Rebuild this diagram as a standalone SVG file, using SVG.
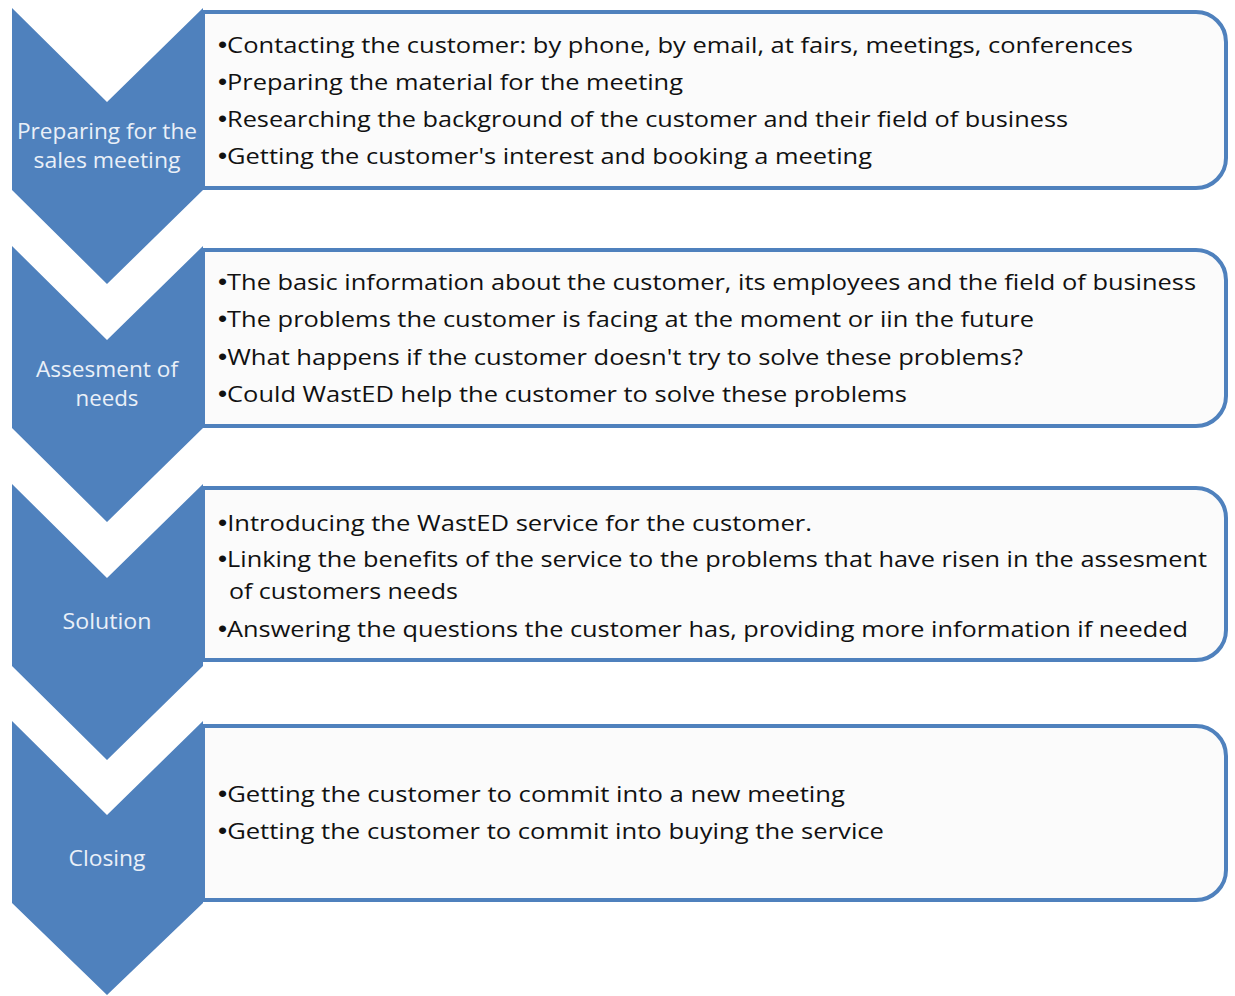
<svg xmlns="http://www.w3.org/2000/svg" width="1235" height="996" viewBox="0 0 1235 996">
  <style>
    .chev { fill: #4f81bd; }
    .box { fill: #fbfbfb; stroke: #4f81bd; stroke-width: 4; }
    .lbl { font-family: "Open Sans", "Liberation Sans", sans-serif; font-size: 22px; fill: #eaf0f8; text-anchor: middle; }
    .item { font-family: "Open Sans", "Liberation Sans", sans-serif; font-size: 22.5px; fill: #111111; }
    .b { font-family: "Liberation Sans", "Arial", sans-serif; font-size: 23px; }
  </style>
  <rect width="1235" height="996" fill="#ffffff"/>

  <!-- Step 1 -->
  <g id="step1">
    <path class="box" d="M203,12 H1196 A30,30 0 0 1 1226,42 V158 A30,30 0 0 1 1196,188 H203 Z"/>
    <path class="chev" d="M12,8 L107,102 L203,8 V190 L107,284 L12,190 Z"/>
    <text class="lbl" x="107" y="139" textLength="180" lengthAdjust="spacingAndGlyphs">Preparing for the</text>
    <text class="lbl" x="107" y="168" textLength="147" lengthAdjust="spacingAndGlyphs">sales meeting</text>
    <text class="item" x="218" y="53" textLength="915" lengthAdjust="spacingAndGlyphs"><tspan class="b">•</tspan>Contacting the customer: by phone, by email, at fairs, meetings, conferences</text>
    <text class="item" x="218" y="90" textLength="465" lengthAdjust="spacingAndGlyphs"><tspan class="b">•</tspan>Preparing the material for the meeting</text>
    <text class="item" x="218" y="127" textLength="850" lengthAdjust="spacingAndGlyphs"><tspan class="b">•</tspan>Researching the background of the customer and their field of business</text>
    <text class="item" x="218" y="164" textLength="654" lengthAdjust="spacingAndGlyphs"><tspan class="b">•</tspan>Getting the customer's interest and booking a meeting</text>
  </g>

  <!-- Step 2 -->
  <g id="step2">
    <path class="box" d="M203,250 H1196 A30,30 0 0 1 1226,280 V396 A30,30 0 0 1 1196,426 H203 Z"/>
    <path class="chev" d="M12,246 L107,340 L203,246 V428 L107,522 L12,428 Z"/>
    <text class="lbl" x="107" y="377" textLength="142" lengthAdjust="spacingAndGlyphs">Assesment of</text>
    <text class="lbl" x="107" y="406" textLength="63" lengthAdjust="spacingAndGlyphs">needs</text>
    <text class="item" x="218" y="290" textLength="978" lengthAdjust="spacingAndGlyphs"><tspan class="b">•</tspan>The basic information about the customer, its employees  and the field of business</text>
    <text class="item" x="218" y="327" textLength="816" lengthAdjust="spacingAndGlyphs"><tspan class="b">•</tspan>The problems the customer is facing at the moment or iin the future</text>
    <text class="item" x="218" y="365" textLength="805" lengthAdjust="spacingAndGlyphs"><tspan class="b">•</tspan>What happens if the customer doesn't try to solve these problems?</text>
    <text class="item" x="218" y="402" textLength="689" lengthAdjust="spacingAndGlyphs"><tspan class="b">•</tspan>Could WastED help the customer to solve these problems</text>
  </g>

  <!-- Step 3 -->
  <g id="step3">
    <path class="box" d="M203,488 H1196 A30,30 0 0 1 1226,518 V630 A30,30 0 0 1 1196,660 H203 Z"/>
    <path class="chev" d="M12,484 L107,578 L203,484 V666 L107,760 L12,666 Z"/>
    <text class="lbl" x="107" y="629" textLength="89" lengthAdjust="spacingAndGlyphs">Solution</text>
    <text class="item" x="218" y="531" textLength="594" lengthAdjust="spacingAndGlyphs"><tspan class="b">•</tspan>Introducing the WastED service for the customer.</text>
    <text class="item" x="218" y="567" textLength="989" lengthAdjust="spacingAndGlyphs"><tspan class="b">•</tspan>Linking the benefits of the service to the problems that have risen in the assesment</text>
    <text class="item" x="229" y="599" textLength="229" lengthAdjust="spacingAndGlyphs">of customers needs</text>
    <text class="item" x="218" y="637" textLength="970" lengthAdjust="spacingAndGlyphs"><tspan class="b">•</tspan>Answering the questions the customer has, providing more information if needed</text>
  </g>

  <!-- Step 4 -->
  <g id="step4">
    <path class="box" d="M203,726 H1196 A30,30 0 0 1 1226,756 V870 A30,30 0 0 1 1196,900 H203 Z"/>
    <path class="chev" d="M12,721 L107,815 L203,721 V903 L107,995 L12,903 Z"/>
    <text class="lbl" x="107" y="866" textLength="77" lengthAdjust="spacingAndGlyphs">Closing</text>
    <text class="item" x="218" y="802" textLength="627" lengthAdjust="spacingAndGlyphs"><tspan class="b">•</tspan>Getting the customer to commit into a new meeting</text>
    <text class="item" x="218" y="839" textLength="666" lengthAdjust="spacingAndGlyphs"><tspan class="b">•</tspan>Getting the customer to commit into buying the service</text>
  </g>

  <g id="connectors"></g>
</svg>
